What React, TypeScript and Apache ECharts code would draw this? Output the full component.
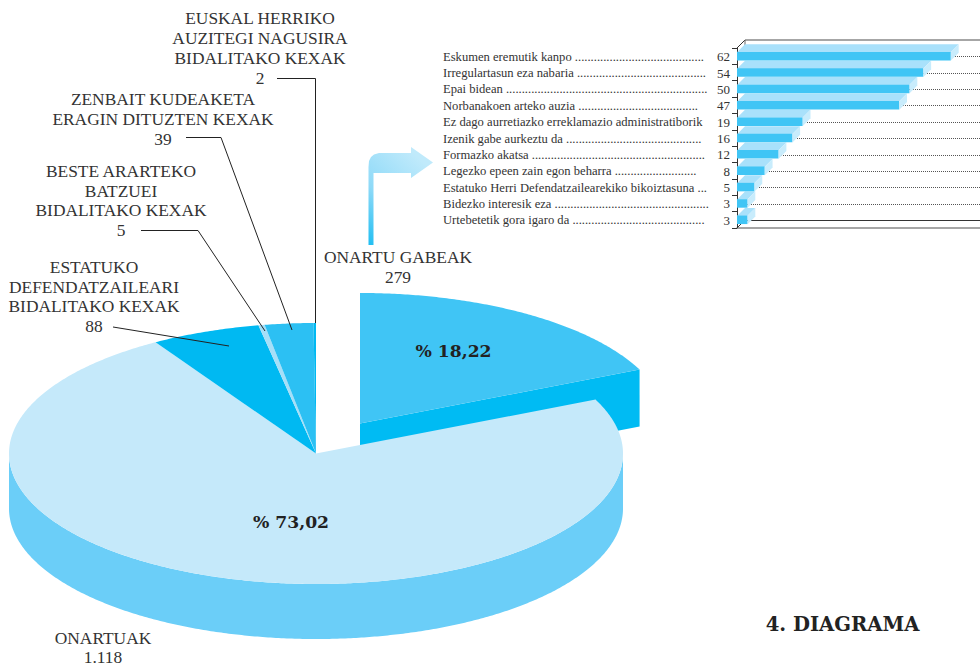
import React, { useEffect, useRef } from "react";
import * as echarts from "echarts";

// ---- Data ----
const sliceNames = [
  "ONARTU GABEAK",
  "ONARTUAK",
  "ESTATUKO DEFENDATZAILEARI BIDALITAKO KEXAK",
  "BESTE ARARTEKO BATZUEI BIDALITAKO KEXAK",
  "ZENBAIT KUDEAKETA ERAGIN DITUZTEN KEXAK",
  "EUSKAL HERRIKO AUZITEGI NAGUSIRA BIDALITAKO KEXAK",
];
const sliceValues = [279, 1118, 88, 5, 39, 2];

const barNames = [
  "Eskumen eremutik kanpo",
  "Irregulartasun eza nabaria",
  "Epai bidean",
  "Norbanakoen arteko auzia",
  "Ez dago aurretiazko erreklamazio administratiborik",
  "Izenik gabe aurkeztu da",
  "Formazko akatsa",
  "Legezko epeen zain egon beharra",
  "Estatuko Herri Defendatzailearekiko bikoiztasuna ...",
  "Bidezko interesik eza",
  "Urtebetetik gora igaro da",
];
const barDots = [41, 41, 64, 38, 0, 43, 55, 26, 0, 49, 42];
const barValues = [62, 54, 50, 47, 19, 16, 12, 8, 5, 3, 3];

const calloutTexts = [
  ["EUSKAL HERRIKO", "AUZITEGI NAGUSIRA", "BIDALITAKO KEXAK", "2"],
  ["ZENBAIT KUDEAKETA", "ERAGIN DITUZTEN KEXAK", "39"],
  ["BESTE ARARTEKO", "BATZUEI", "BIDALITAKO KEXAK", "5"],
  ["ESTATUKO", "DEFENDATZAILEARI", "BIDALITAKO KEXAK", "88"],
  ["ONARTU GABEAK", "279"],
  ["ONARTUAK", "1.118"],
];
const percentTexts = ["% 18,22", "% 73,02"];
const diagramTitle = "4. DIAGRAMA";

// ---- Layout and styles ----
const sliceTopColors = ["#40C5F5", "#C5E9FA", "#00B9F2", "#A6DFF8", "#2CC0F3", "#00B9F2"];
const sliceSideColors = ["#00BBF3", "#6BCEF8", "#00B9F2", "#A6DFF8", "#2CC0F3", "#00B9F2"];
const calloutPlaces = [
  { x: 260, y: 8, lh: 20 },
  { x: 163, y: 89, lh: 20 },
  { x: 121, y: 161, lh: 19.7 },
  { x: 94, y: 257, lh: 19.7 },
  { x: 398, y: 247, lh: 20 },
  { x: 103, y: 628, lh: 19 },
];
const percentPlaces = [
  { x: 453.5, y: 351 },
  { x: 291, y: 522 },
];
const leaders = [
  [[277, 78.5], [315.5, 78.5], [315.5, 323]],
  [[186, 137.5], [221, 137.5], [292, 330]],
  [[141, 230.5], [198, 230.5], [265, 331]],
  [[113, 327], [229, 346]],
];

const SERIF = '"Liberation Serif", serif';
const PIE = { cx: 316, cy: 453.5, rx: 307, ry: 130.5, depth: 55 };
const EXPLODE = { dx: 44, dy: -30, depth: 57 };
const BAR_DEPTH = 8;
const BAR_H = 8.5;

function arc(cx: number, cy: number, from: number, to: number) {
  const pts: number[][] = [];
  const steps = Math.max(2, Math.ceil(Math.abs(to - from) * 2));
  for (let i = 0; i <= steps; i++) {
    const t = ((from + ((to - from) * i) / steps) * Math.PI) / 180;
    pts.push([cx + PIE.rx * Math.sin(t), cy - PIE.ry * Math.cos(t)]);
  }
  return pts;
}

function renderSlice(params: any, api: any) {
  const i = params.dataIndex;
  const total = sliceValues.reduce((a, b) => a + b, 0);
  const start = (sliceValues.slice(0, i).reduce((a, b) => a + b, 0) / total) * 360;
  const end = start + (api.value(0) / total) * 360;
  const exploded = i === 0;
  const cx = PIE.cx + (exploded ? EXPLODE.dx : 0);
  const cy = PIE.cy + (exploded ? EXPLODE.dy : 0);
  const children: any[] = [];
  if (exploded) {
    const p = arc(cx, cy, end, end)[0];
    children.push({
      type: "polygon",
      shape: { points: [[cx, cy], p, [p[0], p[1] + EXPLODE.depth], [cx, cy + EXPLODE.depth]] },
      style: { fill: sliceSideColors[i] },
    });
  } else {
    const a = Math.max(start, 90);
    const b = Math.min(end, 270);
    if (b > a) {
      const top = arc(cx, cy, a, b);
      const bottom = arc(cx, cy + PIE.depth, b, a);
      children.push({
        type: "polygon",
        shape: { points: top.concat(bottom) },
        style: { fill: sliceSideColors[i] },
      });
    }
  }
  children.push({
    type: "polygon",
    shape: { points: [[cx, cy] as number[]].concat(arc(cx, cy, start, end)) },
    style: { fill: sliceTopColors[i] },
  });
  return { type: "group", children };
}

function renderBarFaces(params: any, api: any) {
  const v = api.value(0);
  const c = api.coord([v, api.value(1)]);
  const o = api.coord([0, api.value(1)]);
  const y0 = c[1] - BAR_H / 2 + 0.4;
  const y1 = c[1] + BAR_H / 2 + 0.4;
  const d = BAR_DEPTH;
  return {
    type: "group",
    children: [
      {
        type: "polygon",
        shape: { points: [[o[0], y0], [c[0], y0], [c[0] + d, y0 - d], [o[0] + d, y0 - d]] },
        style: { fill: "#A9E1FB" },
      },
      {
        type: "polygon",
        shape: { points: [[c[0], y0], [c[0] + d, y0 - d], [c[0] + d, y1 - d], [c[0], y1]] },
        style: { fill: "#C8ECFC" },
      },
    ],
  };
}

function renderBackLine(params: any, api: any) {
  const c = api.coord([0, api.value(1)]);
  const band = api.size([0, 1])[1];
  const y = Math.round(c[1] + band / 2 - BAR_DEPTH) + 0.5;
  const last = params.dataIndex === barValues.length - 1;
  return {
    type: "line",
    shape: { x1: c[0] + BAR_DEPTH, y1: y, x2: 980, y2: y },
    style: last
      ? { stroke: "#333", lineWidth: 1 }
      : { stroke: "#555", lineWidth: 1, lineDash: [1, 1] },
  };
}

const arrowPoints = [
  [368.5, 245], [368.5, 167], [369, 161], [371, 157], [374, 154.5], [379, 153],
  [411, 153], [411, 147], [433, 162.5], [411, 178], [411, 173], [373.5, 173], [373.5, 245],
];

export default function App() {
  const ref = useRef<HTMLDivElement>(null);
  useEffect(() => {
    document.body.style.margin = "0";
    const chart = echarts.init(ref.current!, undefined, { renderer: "svg" });
    const graphic: any[] = [];
    calloutTexts.forEach((lines, i) =>
      graphic.push({
        type: "text",
        x: calloutPlaces[i].x,
        y: calloutPlaces[i].y,
        z: 20,
        style: {
          text: lines.join("\n"),
          fill: "#333",
          font: `17.4px ${SERIF}`,
          align: "center",
          verticalAlign: "top",
          lineHeight: calloutPlaces[i].lh,
        },
      })
    );
    percentTexts.forEach((text, i) =>
      graphic.push({
        type: "text",
        x: percentPlaces[i].x,
        y: percentPlaces[i].y,
        z: 20,
        style: {
          text,
          fill: "#222",
          font: 'bold 17.2px "DejaVu Serif", serif',
          align: "center",
          verticalAlign: "middle",
        },
      })
    );
    graphic.push({
      type: "text",
      x: 842.5,
      y: 624,
      z: 20,
      style: {
        text: diagramTitle,
        fill: "#222",
        font: 'bold 19.6px "DejaVu Serif", serif',
        align: "center",
        verticalAlign: "middle",
      },
    });
    leaders.forEach((pts) =>
      graphic.push({
        type: "polyline",
        z: 20,
        shape: { points: pts },
        style: { stroke: "#222", lineWidth: 1, fill: "none" },
      })
    );
    graphic.push({
      type: "polygon",
      z: 20,
      shape: { points: arrowPoints },
      style: {
        fill: new echarts.graphic.LinearGradient(0, 1, 0.6, 0, [
          { offset: 0, color: "#1FBEF2" },
          { offset: 0.45, color: "#8FDAF8" },
          { offset: 1, color: "#C0EAFB" },
        ]),
      },
    });
    // back wall of the inset bar chart
    graphic.push(
      { type: "line", z: 1, shape: { x1: 745, y1: 40, x2: 980, y2: 40 }, style: { stroke: "#888", lineWidth: 1.5 } },
      { type: "line", z: 1, shape: { x1: 737, y1: 48, x2: 745, y2: 40 }, style: { stroke: "#333", lineWidth: 1 } },
      { type: "line", z: 1, shape: { x1: 745, y1: 40, x2: 745, y2: 48 }, style: { stroke: "#666", lineWidth: 1 } },
      { type: "line", z: 1, shape: { x1: 737, y1: 228, x2: 745, y2: 220 }, style: { stroke: "#333", lineWidth: 1 } }
    );

    chart.setOption({
      animation: false,
      backgroundColor: "#fff",
      graphic: { elements: graphic },
      grid: { left: 737, top: 48, width: 243, height: 180, containLabel: false },
      xAxis: {
        type: "value",
        min: 0,
        max: 70.5,
        axisLine: { show: true, lineStyle: { color: "#888", width: 1.5 } },
        axisTick: { show: false },
        axisLabel: { show: false },
        splitLine: { show: false },
      },
      yAxis: {
        type: "category",
        inverse: true,
        data: barNames.map((n, i) => (barDots[i] ? `${n} ${".".repeat(barDots[i])}` : n)),
        axisLine: { show: true, lineStyle: { color: "#333", width: 1 } },
        axisTick: { show: true, length: 5, lineStyle: { color: "#333" } },
        axisLabel: {
          interval: 0,
          align: "left",
          margin: 294,
          formatter: (value: string, i: number) => `{n|${value}}{v|${barValues[i]}}`,
          rich: {
            n: { width: 271, align: "left", fontFamily: SERIF, fontSize: 12.6, color: "#333", padding: [1, 0, 0, 0] },
            v: { width: 16, align: "right", fontFamily: SERIF, fontSize: 13, color: "#333", padding: [1, 0, 0, 0] },
          },
        },
      },
      series: [
        {
          type: "custom",
          name: "pie",
          coordinateSystem: "none",
          renderItem: renderSlice,
          data: sliceValues.map((v, i) => ({ name: sliceNames[i], value: [v] })),
          silent: true,
          z: 2,
        },
        {
          type: "custom",
          name: "back",
          renderItem: renderBackLine,
          data: barValues.map((v, i) => [v, i]),
          encode: { x: 0, y: 1 },
          clip: false,
          silent: true,
          z: 2,
        },
        {
          type: "custom",
          name: "faces",
          renderItem: renderBarFaces,
          data: barValues.map((v, i) => [v, i]),
          encode: { x: 0, y: 1 },
          clip: false,
          silent: true,
          z: 3,
        },
        {
          type: "bar",
          name: "bars",
          data: barValues,
          barWidth: BAR_H,
          itemStyle: { color: "#40C5F5" },
          silent: true,
          z: 4,
        },
      ],
    });
    return () => chart.dispose();
  }, []);
  return (
    <div
      ref={ref}
      style={{ position: "absolute", left: 0, top: 0, width: 980, height: 666 }}
    />
  );
}
